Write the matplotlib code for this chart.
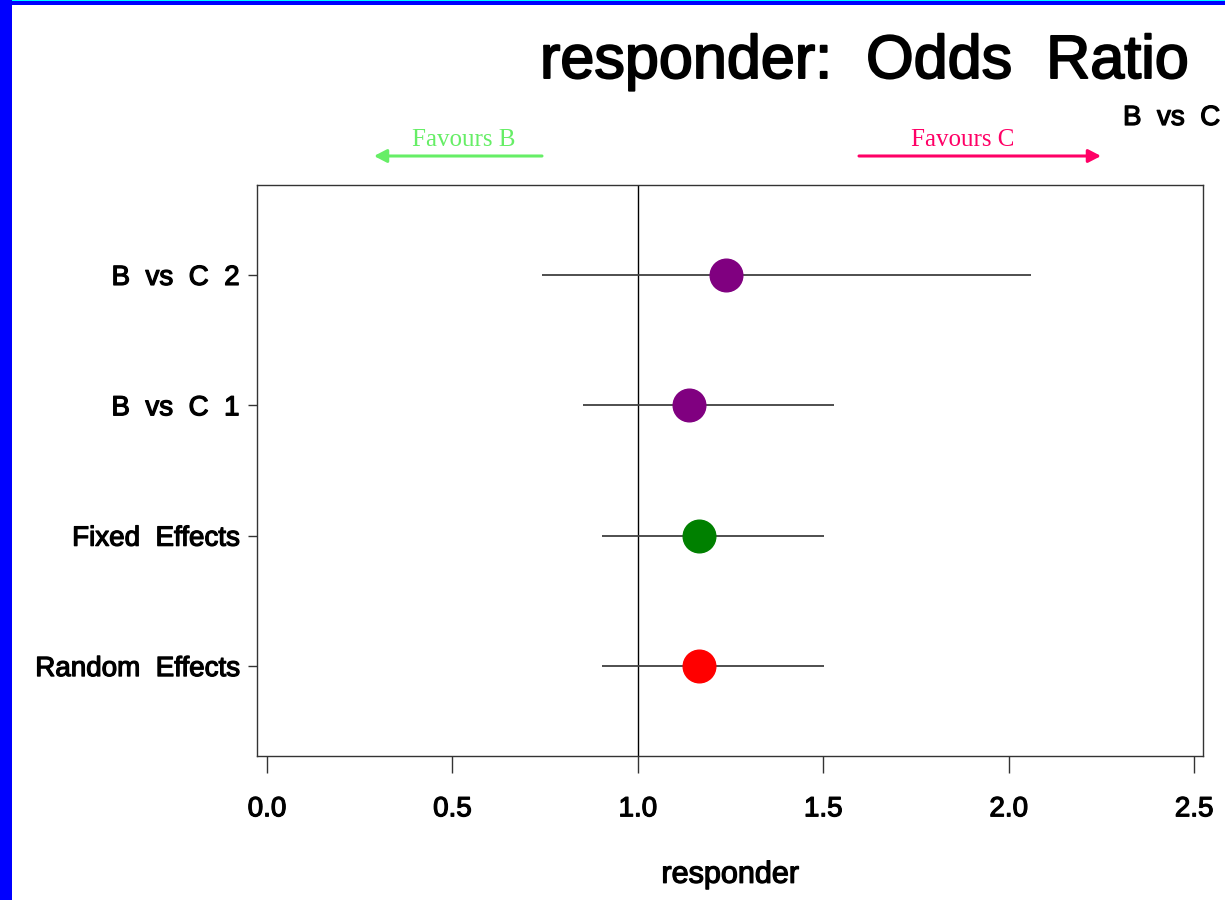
import matplotlib
matplotlib.use("Agg")
import matplotlib.pyplot as plt
import matplotlib.patheffects as pe
from matplotlib.patches import Rectangle, FancyArrowPatch

# ---- data ----
labels = ["B  vs  C  2", "B  vs  C  1", "Fixed  Effects", "Random  Effects"]
odds_ratio = [1.237, 1.137, 1.164, 1.164]
ci_lower = [0.741, 0.852, 0.903, 0.903]
ci_upper = [2.059, 1.528, 1.501, 1.501]
point_colors = ["#800080", "#800080", "#008000", "#FF0000"]
xticks = [0.0, 0.5, 1.0, 1.5, 2.0, 2.5]
xtick_labels = ["0.0", "0.5", "1.0", "1.5", "2.0", "2.5"]

W, H = 1225, 900
fig = plt.figure(figsize=(W / 100, H / 100), dpi=100)
fig.patch.set_facecolor("white")

def fx(px):
    return px / W

def fy(py):
    return 1 - py / H

heavy = [pe.withStroke(linewidth=0.9, foreground="black")]
heavy_big = [pe.withStroke(linewidth=1.4, foreground="black")]

ax = fig.add_axes([fx(257), fy(756), fx(1203) - fx(257), fy(185) - fy(756)])

ypos = list(range(len(labels), 0, -1))
ax.axvline(1.0, color="black", lw=1.0, zorder=1)
for y, o, lo, hi, c in zip(ypos, odds_ratio, ci_lower, ci_upper, point_colors):
    ax.plot([lo, hi], [y, y], color="#404040", lw=1.3, zorder=2, solid_capstyle="butt")
    ax.plot([o], [y], marker="o", markersize=23.5, color=c, markeredgecolor=c, zorder=3, linestyle="none")

ax.set_xlim(-0.027, 2.524)
ax.set_ylim(0.31, 4.69)
ax.set_yticks(ypos)
ax.set_yticklabels(labels, fontsize=20, family="Liberation Sans")
ax.set_xticks(xticks)
ax.set_xticklabels(xtick_labels, fontsize=20, family="Liberation Sans")
ax.tick_params(axis="x", direction="out", length=12, width=1.0, pad=17, color="#333333")
ax.tick_params(axis="y", direction="out", length=6.5, width=1.0, pad=6, color="#333333")
for t in ax.get_xticklabels() + ax.get_yticklabels():
    t.set_path_effects(heavy)
for s in ax.spines.values():
    s.set_linewidth(1.0)
    s.set_color("#333333")
xl = ax.set_xlabel("responder", fontsize=22, family="Liberation Sans", labelpad=27)
xl.set_path_effects(heavy)

# titles
fig.text(fx(540), fy(78), "responder:  Odds  Ratio", fontsize=44, family="Liberation Sans",
         ha="left", va="baseline", path_effects=heavy_big)
fig.text(fx(1123), fy(125), "B  vs  C", fontsize=20, family="Liberation Sans",
         ha="left", va="baseline", path_effects=heavy)

# favours annotations
fig.text(fx(464), fy(146), "Favours B", fontsize=18, family="Liberation Serif",
         color="#66EE66", ha="center", va="baseline")
fig.text(fx(963), fy(146), "Favours C", fontsize=18, family="Liberation Serif",
         color="#FF0066", ha="center", va="baseline")
fig.add_artist(FancyArrowPatch((fx(542), fy(156)), (fx(374), fy(156)),
               transform=fig.transFigure, arrowstyle="-|>,head_length=5,head_width=2.6",
               color="#66EE66", lw=2.2, mutation_scale=1.5, shrinkA=0, shrinkB=0))
fig.add_artist(FancyArrowPatch((fx(859), fy(156)), (fx(1101), fy(156)),
               transform=fig.transFigure, arrowstyle="-|>,head_length=5,head_width=2.6",
               color="#FF0066", lw=2.2, mutation_scale=1.5, shrinkA=0, shrinkB=0))

# border
fig.patches.append(Rectangle((0, 0), fx(12), 1, transform=fig.transFigure,
                             facecolor="#0000FF", edgecolor="none", zorder=10))
fig.patches.append(Rectangle((0, fy(5)), 1, 5 / H, transform=fig.transFigure,
                             facecolor="#0000FF", edgecolor="none", zorder=10))
fig.patches.append(Rectangle((fx(12), fy(1)), 1, 1 / H, transform=fig.transFigure,
                             facecolor="#00FFFF", edgecolor="none", zorder=11))

fig.savefig("out.png", dpi=100)
